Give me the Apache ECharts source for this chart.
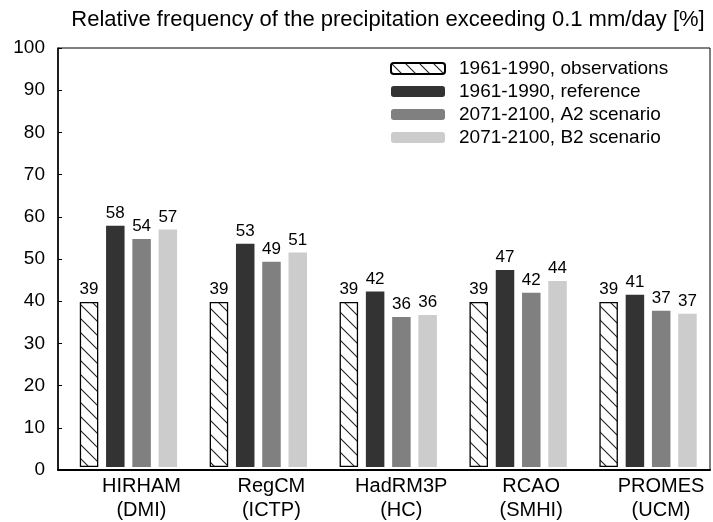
<!DOCTYPE html>
<html>
<head>
<meta charset="utf-8">
<script src="https://cdn.jsdelivr.net/npm/echarts@6/dist/echarts.min.js"></script>
<style>html,body{margin:0;padding:0;background:#fff;}#c{width:713px;height:522px;}</style>
</head>
<body>
<div id="c"></div>
<script>
const titleText = 'Relative frequency of the precipitation exceeding 0.1 mm/day [%]';
const categories = ['HIRHAM\n(DMI)', 'RegCM\n(ICTP)', 'HadRM3P\n(HC)', 'RCAO\n(SMHI)', 'PROMES\n(UCM)'];
const seriesNames = ['1961-1990, observations', '1961-1990, reference', '2071-2100, A2 scenario', '2071-2100, B2 scenario'];
const observations = [39.4, 39.4, 39.4, 39.4, 39.4];
const reference = [57.6, 53.3, 41.9, 47.0, 41.1];
const scenarioA2 = [54.4, 49.0, 35.8, 41.6, 37.3];
const scenarioB2 = [56.7, 51.2, 36.3, 44.4, 36.6];
const yTicks = [0, 10, 20, 30, 40, 50, 60, 70, 80, 90, 100];

const FONT = 'Liberation Sans, Arial, Helvetica, sans-serif';

// hatch pattern
const pc = document.createElement('canvas');
pc.width = 14; pc.height = 14;
const ctx = pc.getContext('2d');
ctx.fillStyle = '#fff';
ctx.fillRect(0, 0, 14, 14);
ctx.strokeStyle = '#222';
ctx.lineWidth = 1.1;
ctx.beginPath();
ctx.moveTo(-2, -2); ctx.lineTo(16, 16);
ctx.moveTo(-2, 12); ctx.lineTo(2, 16);
ctx.moveTo(12, -2); ctx.lineTo(16, 2);
ctx.stroke();

const chart = echarts.init(document.getElementById('c'), null, {renderer: 'canvas'});

const labelCfg = {
  show: true, position: 'top', distance: 4, color: '#000', fontSize: 17, fontFamily: FONT,
  formatter: p => Math.round(p.value)
};

const datasets = [observations, reference, scenarioA2, scenarioB2];
const colors = [{image: pc, repeat: 'repeat'}, '#333333', '#808080', '#cccccc'];

const series = datasets.map((d, i) => ({
  name: seriesNames[i],
  type: 'bar',
  xAxisIndex: 1, yAxisIndex: 1,
  data: d,
  barWidth: 18.5,
  barGap: '42%',
  itemStyle: i === 0 ? {color: colors[0], borderColor: '#000', borderWidth: 1.3} : {color: colors[i]},
  label: labelCfg,
  emphasis: {disabled: true},
  animation: false
}));

chart.setOption({
  animation: false,
  title: {
    text: titleText, left: 383, textAlign: 'center', top: 4,
    textStyle: {fontSize: 22, fontWeight: 'normal', color: '#000', fontFamily: FONT}
  },
  legend: {
    orient: 'vertical', left: 390, top: 59, padding: 0,
    itemWidth: 54, itemHeight: 11, itemGap: 4,
    data: seriesNames,
    textStyle: {fontSize: 19, lineHeight: 19, color: '#000', fontFamily: FONT, padding: [0, 0, 0, 9]},
    selectedMode: false
  },
  grid: [
    {left: 58, right: 3, top: 48, bottom: 52, show: true, borderColor: '#000', borderWidth: 1, backgroundColor: 'transparent'},
    {left: 63.5, width: 655, top: 48, bottom: 52}
  ],
  xAxis: [
    {gridIndex: 0, type: 'value', min: 0, max: 1, axisLine: {show: true, lineStyle: {color: '#000', width: 2}}, axisTick: {show: false}, axisLabel: {show: false}, splitLine: {show: false}},
    {gridIndex: 1, type: 'category', data: categories, axisLine: {show: false}, axisTick: {show: false},
      axisLabel: {color: '#000', fontSize: 20, fontFamily: FONT, lineHeight: 24, margin: 7, padding: [0, 0, 0, 26]}}
  ],
  yAxis: [
    {gridIndex: 0, type: 'value', min: 0, max: 100, interval: 10,
      axisLine: {show: true, lineStyle: {color: '#000', width: 1.5}},
      axisTick: {show: true, inside: true, length: 4, lineStyle: {color: '#000'}},
      axisLabel: {color: '#000', fontSize: 19, fontFamily: FONT, margin: 13, formatter: v => yTicks.includes(v) ? String(v) : ''},
      splitLine: {show: false}},
    {gridIndex: 1, type: 'value', min: 0, max: 100, show: false}
  ],
  series: series
});
</script>
</body>
</html>
